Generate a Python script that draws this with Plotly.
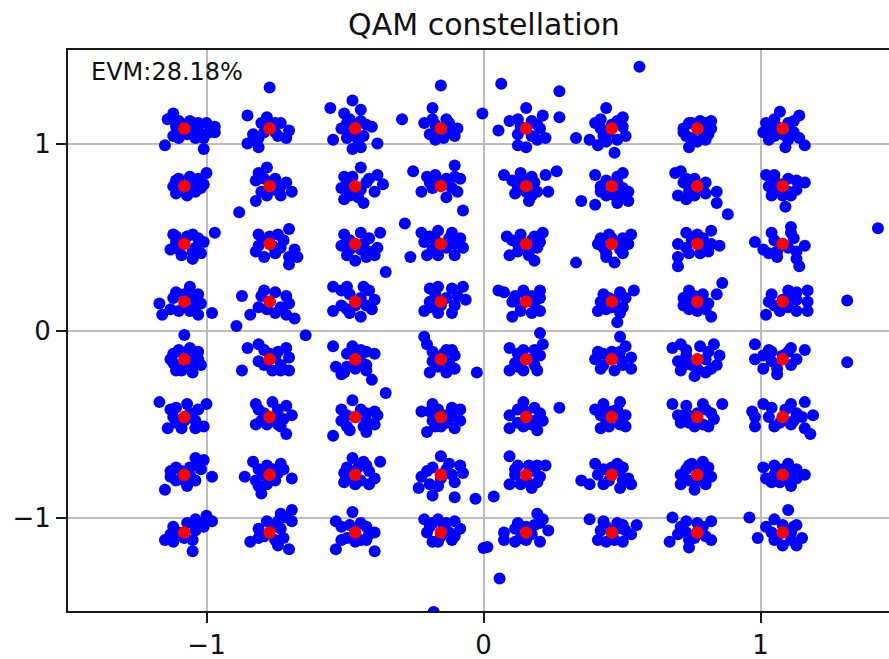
import plotly.graph_objects as go

# Ideal 64-QAM levels (normalised)
levels = [-1.080, -0.772, -0.463, -0.154, 0.154, 0.463, 0.772, 1.080]
tick_vals = [-1, 0, 1]
tick_text = ["\u22121", "0", "1"]
evm_text = "EVM:28.18%"
title_text = "QAM constellation"

# Received symbols: offsets (dI, dQ) from the ideal point, read per cluster.
# Each row list holds 8 clusters from left (I=-1.08) to right (I=1.08).
offsets_row0 = [  # Q = 1.080
    [(-0.04,0.08),(-0.06,0.05),(-0.02,0.04),(0.02,0.04),(0.05,0.03),(0.08,0.03),(0.11,0.01),(0.11,-0.02),(-0.04,-0.04),(-0.02,-0.05),(0.04,-0.05),(0.07,-0.05),(-0.07,-0.09),(0.07,-0.11),(0.02,0.0),(0.05,-0.01),(0.09,-0.02),(-0.03,0.01),(-0.02,-0.03),(0.03,0.03),(0.01,-0.03)],
    [(0.0,0.22),(-0.08,0.07),(-0.01,0.06),(0.02,0.03),(0.04,0.03),(0.07,-0.01),(0.06,-0.05),(-0.04,-0.05),(-0.05,-0.06),(-0.08,-0.08),(-0.04,-0.1),(-0.02,-0.02),(0.02,-0.02),(-0.03,0.03),(0.03,-0.04),(-0.06,-0.03)],
    [(-0.01,0.15),(0.02,0.1),(-0.04,0.08),(-0.02,0.05),(0.04,0.02),(0.06,0.01),(-0.03,-0.05),(-0.01,-0.11),(0.02,-0.1),(0.08,-0.08),(-0.05,0.0),(0.03,-0.04),(-0.09,0.11),(-0.08,-0.06),(0.0,-0.02),(-0.03,0.03),(0.02,0.04),(-0.02,-0.03),(0.01,-0.06)],
    [(0.0,0.23),(-0.03,0.11),(-0.14,0.05),(-0.06,0.03),(0.02,0.05),(0.06,0.0),(0.05,-0.04),(-0.02,-0.06),(-0.04,-0.03),(0.01,-0.05),(0.03,-0.02),(0.15,0.08),(-0.02,0.02),(-0.03,0.05),(0.03,0.03),(-0.01,-0.03)],
    [(-0.09,0.24),(-0.1,-0.01),(0.0,0.11),(-0.06,0.04),(-0.03,0.05),(0.06,0.07),(0.12,0.06),(0.12,0.2),(0.04,0.02),(0.07,-0.05),(0.04,-0.06),(-0.03,-0.09),(0.0,-0.1),(0.02,-0.04),(0.18,-0.05),(-0.02,0.01),(-0.03,-0.03),(0.02,0.04),(0.05,0.0)],
    [(-0.02,0.11),(-0.06,0.03),(-0.08,-0.06),(-0.05,-0.09),(-0.03,-0.04),(-0.04,0.05),(0.02,-0.06),(0.04,0.06),(0.05,-0.04),(0.01,-0.13),(0.04,0.01),(0.1,0.33),(0.0,0.02),(-0.01,-0.02),(-0.04,0.0),(0.02,0.04),(-0.02,-0.07)],
    [(-0.05,0.0),(-0.04,-0.04),(-0.03,-0.1),(0.0,-0.07),(0.03,-0.06),(0.05,0.04),(0.01,0.04),(-0.02,0.03),(0.05,0.0),(0.04,-0.03),(-0.05,-0.02),(0.0,0.01),(0.02,-0.02),(-0.03,0.03),(0.03,0.03),(-0.02,-0.05)],
    [(-0.01,0.09),(-0.06,0.03),(-0.07,-0.02),(-0.05,-0.06),(0.01,-0.1),(0.04,0.04),(0.06,0.07),(0.04,-0.02),(0.06,-0.05),(0.08,-0.09),(-0.03,-0.04),(0.02,-0.06),(-0.02,0.01),(-0.03,0.05),(0.02,0.03),(-0.05,-0.01),(0.0,-0.03)],
]
offsets_row1 = [  # Q = 0.772
    [(-0.02,0.04),(0.02,0.05),(0.05,0.04),(0.08,0.07),(0.07,0.01),(-0.03,-0.04),(0.01,-0.05),(0.04,-0.03),(0.06,-0.01),(0.03,0.01),(-0.03,0.03),(0.0,0.0),(-0.01,-0.02),(-0.04,0.0),(0.02,-0.03),(0.04,0.03)],
    [(-0.01,0.1),(-0.04,0.07),(-0.05,0.03),(-0.02,0.04),(0.04,0.0),(0.08,-0.03),(0.04,-0.05),(-0.05,-0.08),(-0.11,-0.14),(0.02,-0.02),(0.0,0.02),(-0.03,-0.03),(0.02,0.04),(-0.01,-0.05),(0.06,0.02)],
    [(0.02,0.1),(-0.04,0.05),(0.08,0.06),(0.1,0.01),(0.07,-0.03),(0.03,-0.09),(-0.04,-0.07),(-0.05,-0.01),(0.04,0.02),(-0.01,0.05),(-0.02,-0.05),(0.02,-0.02),(-0.03,0.02),(0.05,0.04),(0.01,-0.06),(-0.03,-0.03)],
    [(-0.1,0.08),(0.05,0.11),(-0.05,0.05),(-0.02,0.06),(0.05,0.05),(0.07,0.04),(-0.07,-0.03),(-0.03,-0.01),(0.02,-0.06),(0.06,-0.03),(0.08,-0.13),(-0.13,-0.2),(0.02,0.01),(0.04,-0.01),(-0.01,0.03),(0.02,0.04),(-0.04,0.02)],
    [(-0.08,0.06),(-0.02,0.07),(0.07,0.06),(0.11,0.08),(0.08,-0.03),(-0.04,-0.04),(0.01,-0.08),(0.04,-0.03),(-0.03,0.0),(0.03,0.02),(0.0,-0.03),(-0.01,0.03),(0.02,0.05),(-0.05,0.03),(0.02,-0.05)],
    [(-0.06,0.06),(-0.11,-0.08),(-0.06,-0.1),(-0.04,0.0),(-0.02,-0.05),(0.02,-0.09),(0.04,0.07),(0.06,-0.03),(0.06,-0.08),(0.01,-0.05),(0.02,0.02),(-0.02,0.03),(0.04,-0.01),(-0.04,-0.03),(0.02,0.05),(0.03,-0.06)],
    [(-0.08,0.07),(-0.06,0.08),(-0.04,0.04),(-0.01,0.04),(-0.07,-0.05),(-0.04,-0.07),(-0.01,-0.05),(0.03,-0.04),(0.07,-0.03),(0.07,-0.09),(0.11,-0.15),(-0.03,0.0),(0.02,-0.02),(-0.05,0.02),(0.03,0.02),(-0.03,-0.03)],
    [(-0.06,0.06),(-0.03,0.06),(0.02,0.04),(0.08,0.02),(0.05,-0.02),(-0.04,-0.05),(0.03,-0.05),(0.01,-0.11),(-0.02,-0.02),(-0.05,0.0),(0.05,0.03),(0.0,0.01),(-0.03,0.03),(0.02,-0.03),(0.0,-0.05)],
]
offsets_row2 = [  # Q = 0.463
    [(-0.04,0.05),(0.03,0.05),(0.07,0.01),(0.06,-0.05),(0.03,-0.08),(-0.01,-0.06),(-0.05,-0.03),(-0.03,0.01),(0.04,-0.02),(0.01,0.04),(0.11,0.06),(-0.02,-0.03),(0.0,0.02),(0.03,-0.04),(-0.03,0.04),(0.05,0.03)],
    [(-0.04,0.05),(0.03,0.05),(0.07,0.08),(-0.05,-0.04),(-0.02,-0.07),(0.02,-0.05),(0.07,-0.07),(0.1,-0.07),(0.07,-0.11),(0.09,-0.03),(0.01,-0.01),(-0.02,0.02),(0.04,-0.02),(-0.04,-0.01),(0.05,0.02),(0.0,0.04)],
    [(-0.04,0.05),(-0.03,-0.06),(0.0,-0.09),(0.04,-0.07),(0.07,-0.06),(0.08,-0.02),(0.05,0.03),(0.09,0.06),(0.02,0.06),(-0.05,-0.01),(0.11,-0.15),(0.02,-0.03),(-0.02,0.02),(0.03,0.0),(-0.02,-0.03),(0.05,-0.04)],
    [(-0.07,0.06),(-0.01,0.07),(0.04,0.06),(0.07,0.03),(0.08,-0.02),(0.05,-0.06),(-0.01,-0.06),(-0.05,-0.06),(-0.06,0.01),(-0.11,-0.07),(0.02,-0.02),(-0.02,0.02),(0.03,0.03),(-0.03,-0.03),(0.05,0.0),(-0.04,0.04)],
    [(-0.07,0.04),(-0.02,0.05),(0.06,0.06),(0.04,-0.02),(0.03,-0.09),(-0.06,-0.06),(-0.03,-0.04),(0.18,-0.1),(0.02,0.02),(-0.03,0.0),(0.0,-0.03),(0.03,0.04),(-0.05,0.02),(0.01,-0.06),(0.05,0.01)],
    [(-0.04,0.03),(0.01,-0.1),(-0.02,-0.05),(0.04,0.03),(0.07,0.05),(0.03,-0.03),(0.0,0.03),(-0.03,-0.02),(0.02,0.0),(-0.05,0.0),(0.04,-0.05),(-0.01,0.05),(0.06,0.0),(-0.02,-0.07)],
    [(-0.04,0.06),(0.05,0.07),(-0.07,0.0),(0.08,-0.01),(0.05,0.0),(-0.03,-0.05),(-0.07,-0.07),(-0.07,-0.12),(0.01,-0.05),(-0.02,0.02),(0.02,0.03),(0.02,-0.02),(-0.04,-0.02),(0.04,-0.04),(0.0,0.05)],
    [(-0.1,0.01),(-0.07,-0.03),(-0.04,0.06),(0.03,0.06),(0.08,-0.01),(0.05,-0.04),(-0.02,-0.07),(0.06,-0.12),(0.05,-0.08),(-0.05,-0.05),(0.03,0.09),(0.0,0.0),(0.02,-0.02),(-0.03,0.02),(0.04,0.03),(-0.02,-0.04)],
]
offsets_row3 = [  # Q = 0.154
    [(-0.09,-0.01),(-0.08,-0.07),(-0.04,0.02),(0.02,0.08),(0.05,0.04),(0.06,-0.01),(0.05,-0.07),(-0.02,-0.05),(0.02,-0.05),(0.1,-0.06),(-0.03,0.05),(0.0,-0.02),(0.03,0.02),(-0.05,-0.04),(0.0,0.04),(0.04,-0.03)],
    [(-0.1,0.03),(-0.07,-0.07),(-0.12,-0.13),(-0.02,0.06),(0.02,0.05),(0.06,0.03),(0.07,-0.01),(0.06,-0.07),(0.09,-0.09),(-0.04,-0.03),(0.02,-0.06),(0.13,-0.18),(0.0,0.0),(-0.03,0.03),(0.04,-0.03),(-0.01,-0.04)],
    [(-0.05,0.06),(-0.03,0.08),(0.03,0.08),(0.05,0.06),(0.07,0.01),(0.06,-0.04),(0.02,-0.08),(-0.03,-0.04),(-0.05,-0.02),(-0.08,0.08),(-0.08,-0.05),(0.02,0.02),(0.0,-0.02),(-0.02,0.04),(0.04,-0.02),(-0.02,-0.06)],
    [(-0.04,0.07),(-0.01,0.08),(0.04,0.07),(0.08,0.08),(0.09,0.01),(0.05,-0.02),(0.04,-0.06),(-0.06,-0.05),(-0.04,0.0),(-0.01,-0.06),(0.02,0.02),(0.0,-0.02),(-0.02,0.04),(0.06,0.03),(-0.04,-0.03)],
    [(-0.1,0.06),(-0.08,0.05),(-0.04,0.03),(-0.01,0.06),(0.05,0.06),(0.05,-0.05),(0.02,-0.06),(-0.05,-0.08),(0.03,-0.01),(0.02,0.03),(-0.02,-0.02),(-0.05,0.0),(0.05,0.02),(-0.02,-0.05),(0.0,0.03)],
    [(-0.03,0.04),(-0.05,-0.05),(-0.02,-0.04),(0.02,-0.11),(0.03,0.05),(0.08,0.06),(0.04,-0.03),(0.01,0.01),(-0.01,0.02),(-0.04,0.0),(0.03,-0.06),(0.05,0.02),(0.0,-0.03)],
    [(-0.03,0.06),(-0.05,0.02),(-0.03,-0.04),(0.0,-0.05),(0.05,-0.08),(0.04,-0.01),(0.07,0.04),(0.09,0.1),(0.02,0.04),(0.01,-0.01),(-0.02,0.0),(-0.05,-0.02),(0.03,-0.04),(-0.01,0.03)],
    [(-0.04,0.04),(-0.06,-0.07),(-0.03,-0.02),(0.02,0.06),(0.05,0.05),(0.05,-0.05),(0.09,0.06),(0.09,0.0),(0.09,-0.05),(0.0,0.01),(0.02,-0.03),(-0.05,0.0),(0.05,0.01),(-0.01,-0.05),(0.03,0.03)],
]
offsets_row4 = [  # Q = -0.154
    [(0.0,0.13),(-0.04,0.03),(-0.03,-0.06),(0.03,-0.07),(0.06,-0.03),(0.05,0.04),(0.02,0.06),(-0.01,-0.06),(-0.04,-0.02),(0.03,0.0),(0.0,0.02),(0.03,-0.03),(-0.02,0.05),(0.05,0.0),(-0.05,0.0),(0.0,-0.04)],
    [(-0.08,0.06),(-0.1,-0.06),(-0.04,0.08),(0.06,0.06),(0.07,0.01),(0.07,-0.06),(0.01,-0.06),(-0.04,-0.01),(0.04,-0.03),(0.0,0.03),(0.02,0.01),(-0.02,0.05),(0.03,0.04),(-0.02,-0.03),(0.04,-0.06)],
    [(-0.01,0.07),(0.04,0.04),(0.07,0.03),(0.04,-0.03),(0.04,-0.06),(0.06,-0.11),(-0.04,-0.07),(-0.03,-0.04),(0.11,-0.18),(-0.08,0.07),(-0.07,-0.04),(-0.05,-0.08),(0.0,0.02),(0.02,-0.01),(-0.03,0.03),(0.02,0.05),(0.0,-0.05)],
    [(-0.06,0.12),(-0.05,0.08),(0.02,0.05),(0.05,0.02),(0.05,-0.05),(0.02,-0.07),(-0.04,-0.07),(-0.03,-0.01),(0.13,-0.07),(0.0,0.0),(0.03,-0.02),(-0.03,0.04),(0.01,0.03),(-0.01,-0.04),(0.04,0.05)],
    [(-0.06,0.06),(-0.04,-0.02),(-0.06,-0.06),(0.05,0.14),(0.06,0.08),(0.05,0.02),(0.04,-0.06),(-0.01,0.05),(-0.01,-0.06),(0.02,0.0),(-0.03,0.03),(0.03,-0.03),(0.03,0.05),(-0.03,-0.04)],
    [(-0.06,0.0),(-0.03,0.03),(0.03,0.12),(0.05,0.07),(0.07,0.01),(0.07,-0.05),(0.01,-0.06),(-0.03,-0.03),(0.03,0.0),(0.0,0.04),(-0.04,-0.05),(0.04,-0.03),(0.03,0.04),(-0.05,0.04)],
    [(-0.09,0.06),(-0.06,0.08),(-0.07,-0.01),(-0.06,-0.06),(-0.01,-0.09),(0.03,-0.07),(0.07,-0.03),(0.08,0.02),(0.06,0.08),(0.01,0.07),(-0.04,0.02),(0.03,0.0),(-0.02,-0.03),(-0.04,0.05),(0.04,0.04),(0.0,-0.05),(0.05,-0.05),(-0.05,-0.03)],
    [(-0.1,0.08),(-0.1,0.0),(-0.07,-0.05),(-0.05,0.05),(-0.02,-0.05),(-0.02,-0.08),(0.03,0.06),(0.08,0.05),(0.05,0.0),(0.0,0.02),(-0.04,-0.01),(-0.07,0.02),(0.03,-0.03),(0.02,0.04),(-0.04,0.04)],
]
offsets_row5 = [  # Q = -0.463
    [(-0.09,0.08),(0.08,0.07),(-0.03,0.05),(0.01,0.07),(-0.06,-0.06),(-0.01,-0.06),(0.04,-0.06),(0.07,-0.05),(0.04,-0.02),(-0.04,0.0),(0.02,0.02),(0.05,0.04),(-0.03,-0.03),(0.0,-0.02),(-0.05,0.04)],
    [(-0.05,0.07),(0.01,0.08),(0.06,0.06),(0.08,0.01),(-0.05,-0.04),(0.03,-0.04),(0.06,-0.09),(0.04,-0.05),(-0.02,0.02),(0.02,0.0),(-0.03,-0.02),(0.03,0.04),(0.05,-0.01),(-0.01,-0.04),(-0.04,0.04)],
    [(-0.01,0.09),(-0.05,0.04),(0.07,0.03),(0.08,0.01),(0.04,-0.02),(-0.03,-0.05),(0.04,-0.08),(-0.02,-0.07),(0.07,-0.04),(-0.08,-0.1),(0.0,0.0),(-0.03,0.01),(0.02,0.04),(0.03,-0.05),(-0.05,-0.02),(0.04,0.02)],
    [(-0.07,0.03),(-0.03,0.07),(0.04,0.05),(0.07,0.04),(-0.05,-0.08),(0.05,-0.06),(0.07,-0.02),(0.0,-0.05),(-0.03,-0.02),(0.02,0.01),(-0.01,0.04),(0.04,0.0),(-0.04,0.03),(0.02,-0.03),(-0.02,-0.05)],
    [(-0.01,0.08),(-0.06,0.01),(0.12,0.05),(0.05,0.02),(-0.06,-0.06),(0.04,-0.07),(0.03,-0.02),(-0.03,-0.03),(0.0,0.03),(0.02,-0.04),(-0.03,0.04),(0.03,0.05),(-0.01,-0.05),(0.06,-0.02)],
    [(-0.06,0.04),(-0.03,0.07),(-0.04,-0.06),(0.04,0.0),(0.03,-0.04),(0.03,0.08),(0.05,0.01),(-0.02,-0.02),(0.0,0.03),(-0.01,-0.05),(-0.04,0.01),(0.02,0.04),(0.05,-0.05),(-0.03,0.04)],
    [(-0.09,0.07),(-0.07,0.01),(-0.04,0.06),(0.02,0.07),(0.05,0.02),(0.09,0.07),(-0.03,-0.03),(0.04,-0.05),(0.02,-0.04),(0.0,0.02),(-0.04,0.02),(0.03,0.04),(-0.01,-0.05),(0.06,-0.01),(-0.06,-0.03)],
    [(-0.11,0.03),(-0.07,0.07),(-0.04,0.05),(0.03,0.07),(0.08,0.08),(0.11,0.01),(0.05,0.02),(-0.1,0.0),(-0.1,-0.05),(-0.03,-0.05),(0.03,-0.04),(0.08,-0.06),(0.1,-0.09),(0.07,0.0),(0.0,0.0),(-0.05,0.0),(0.01,0.04),(-0.01,-0.03),(0.04,-0.02)],
]
offsets_row6 = [  # Q = -0.772
    [(-0.07,-0.08),(-0.05,-0.01),(-0.03,0.04),(0.04,0.09),(0.07,0.08),(0.06,0.03),(0.1,-0.01),(0.01,-0.06),(0.04,-0.03),(-0.01,0.02),(0.02,0.04),(0.02,0.0),(-0.03,-0.03),(0.05,0.05),(-0.05,0.02),(0.0,-0.03)],
    [(-0.09,-0.01),(-0.06,0.07),(-0.04,0.03),(0.04,0.06),(0.01,0.03),(-0.04,-0.06),(-0.03,-0.1),(-0.01,-0.05),(0.08,-0.02),(0.03,0.01),(-0.02,0.0),(-0.01,0.05),(0.05,0.03),(0.02,-0.03),(-0.05,-0.03)],
    [(-0.01,0.09),(0.09,0.07),(0.04,0.05),(0.07,-0.02),(0.05,-0.05),(-0.04,-0.04),(-0.03,0.04),(0.02,-0.03),(0.0,0.0),(-0.02,-0.01),(0.01,0.04),(0.05,0.02),(-0.04,0.01),(0.0,-0.05),(0.03,0.07)],
    [(-0.07,-0.01),(-0.08,-0.07),(-0.03,-0.11),(0.0,0.1),(-0.03,0.04),(0.07,0.05),(0.08,0.01),(0.05,-0.04),(0.05,-0.12),(-0.04,-0.05),(0.02,0.03),(0.0,-0.02),(-0.05,0.02),(0.04,0.0),(-0.01,-0.06),(0.03,0.06)],
    [(-0.06,0.1),(-0.03,0.05),(0.04,0.05),(0.07,0.05),(0.05,-0.01),(0.02,-0.07),(-0.06,-0.05),(-0.04,0.0),(0.0,-0.03),(0.02,0.02),(0.01,0.05),(-0.02,-0.05),(0.04,-0.04),(-0.04,0.03)],
    [(-0.11,-0.03),(-0.08,-0.05),(-0.06,0.06),(-0.03,0.03),(-0.03,-0.05),(0.02,0.06),(0.04,0.04),(0.06,-0.02),(0.07,-0.05),(0.03,-0.07),(0.0,0.0),(-0.01,-0.03),(-0.05,0.0),(0.03,0.02),(0.0,0.04),(0.04,-0.03)],
    [(-0.03,0.05),(0.02,0.07),(0.04,0.04),(0.05,-0.01),(0.03,-0.05),(-0.01,-0.08),(-0.06,-0.05),(-0.06,0.0),(-0.04,0.03),(0.0,-0.03),(0.0,0.04),(-0.03,-0.03),(0.03,0.0),(-0.02,0.06)],
    [(-0.07,0.04),(-0.06,-0.02),(-0.03,0.05),(0.02,0.06),(0.05,0.03),(0.08,0.0),(0.03,-0.06),(-0.01,-0.04),(0.05,-0.02),(-0.03,0.0),(0.0,0.03),(0.03,0.02),(-0.04,-0.04),(0.02,-0.03)],
]
offsets_row7 = [  # Q = -1.080
    [(-0.07,-0.04),(-0.04,0.03),(0.03,0.05),(0.04,0.07),(0.08,0.09),(0.1,0.06),(0.04,0.01),(0.03,-0.1),(-0.04,-0.05),(0.01,0.05),(0.06,0.05),(-0.02,0.0),(0.0,-0.03),(-0.05,-0.01),(0.03,-0.04),(0.07,0.03)],
    [(-0.07,-0.05),(-0.04,0.02),(-0.01,0.06),(0.04,0.1),(0.08,0.12),(0.08,0.06),(0.04,0.02),(0.03,-0.07),(0.07,-0.09),(-0.02,-0.02),(0.06,0.08),(0.01,0.03),(0.05,-0.03),(-0.04,-0.03),(0.02,-0.04),(0.03,0.06)],
    [(-0.01,0.11),(-0.05,0.03),(-0.05,-0.04),(0.02,0.05),(0.05,-0.01),(0.07,0.0),(0.02,-0.04),(0.07,-0.1),(-0.03,-0.03),(-0.07,0.06),(-0.07,-0.09),(0.0,0.0),(-0.02,0.04),(0.04,0.03),(0.0,-0.05),(0.04,-0.04)],
    [(-0.06,0.07),(-0.01,0.07),(0.05,0.06),(0.07,0.02),(0.04,-0.04),(-0.03,-0.05),(-0.04,0.03),(0.01,0.03),(0.0,-0.02),(0.03,0.0),(-0.05,0.0),(0.02,0.05),(-0.01,-0.05),(0.05,-0.02),(-0.03,0.05)],
    [(-0.08,0.0),(-0.08,-0.04),(-0.04,-0.05),(-0.03,0.05),(0.04,0.1),(0.05,0.05),(0.08,0.01),(0.05,-0.05),(0.02,-0.01),(0.0,0.03),(0.06,0.07),(-0.04,0.02),(0.0,-0.04),(0.03,0.04),(-0.02,-0.03)],
    [(-0.08,0.07),(-0.05,-0.04),(-0.03,0.06),(-0.02,-0.05),(0.04,0.04),(0.09,0.04),(0.07,-0.01),(0.04,-0.05),(0.0,0.0),(0.02,0.02),(-0.04,0.01),(0.01,-0.04),(0.05,0.01),(-0.02,0.03),(0.02,0.05)],
    [(-0.09,0.08),(-0.1,-0.05),(-0.07,-0.01),(-0.03,-0.08),(-0.04,0.06),(0.05,-0.04),(0.05,0.06),(0.02,0.03),(-0.01,-0.03),(0.0,0.0),(-0.06,0.03),(-0.03,-0.04),(0.03,-0.02),(0.0,0.05),(-0.04,0.0)],
    [(-0.12,0.08),(-0.09,-0.03),(-0.06,0.03),(-0.03,0.07),(0.02,0.12),(0.05,0.04),(0.07,-0.03),(0.05,-0.07),(0.0,-0.07),(-0.03,-0.04),(0.03,0.0),(-0.04,0.0),(0.0,0.04),(0.03,-0.04),(-0.02,-0.02),(0.04,0.03)],
]

# Stray received symbols far from any cluster (absolute I, Q)
stray_i = [1.424, 1.313, 1.313, -0.029, 0.037, 0.0, 0.014, 0.058, -0.18]
stray_q = [0.547, 0.161, -0.170, -0.900, -0.888, -1.163, -1.158, -1.326, -1.505]

rows = [offsets_row0, offsets_row1, offsets_row2, offsets_row3,
        offsets_row4, offsets_row5, offsets_row6, offsets_row7]
row_levels = levels[::-1]

rx_i, rx_q = [], []
for r, row in enumerate(rows):
    q0 = row_levels[r]
    for c, pts in enumerate(row):
        i0 = levels[c]
        for dx, dy in pts:
            rx_i.append(i0 + dx)
            rx_q.append(q0 + dy)
rx_i += stray_i
rx_q += stray_q

ideal_i = [i for q in levels for i in levels]
ideal_q = [q for q in levels for i in levels]

FONT = "DejaVu Sans"

fig = go.Figure()
fig.add_trace(go.Scatter(x=rx_i, y=rx_q, mode="markers",
                         marker=dict(color="#0000ff", size=12, line=dict(width=0)),
                         showlegend=False, hoverinfo="skip"))
fig.add_trace(go.Scatter(x=ideal_i, y=ideal_q, mode="markers",
                         marker=dict(color="#ff0000", size=12.5, line=dict(width=0)),
                         showlegend=False, hoverinfo="skip"))

fig.add_annotation(x=-1.425, y=1.38, xref="x", yref="y", text=evm_text,
                   showarrow=False, xanchor="left", yanchor="middle",
                   font=dict(family=FONT, size=24, color="#111"))

axis_common = dict(
    showgrid=True, gridcolor="#bdbdbd", gridwidth=1.5,
    zeroline=False, showline=True, linecolor="#1a1a1a", linewidth=2,
    ticks="outside", ticklen=10, tickwidth=2, tickcolor="#1a1a1a",
    tickvals=tick_vals, ticktext=tick_text,
    tickfont=dict(family=FONT, size=26, color="#111"),
)

fig.update_layout(
    width=889, height=659,
    margin=dict(l=68, r=0, t=50, b=48),
    paper_bgcolor="white", plot_bgcolor="white",
    title=dict(text=title_text, x=484/889, xref="container", xanchor="center",
               y=1 - 24/659, yref="container", yanchor="middle",
               font=dict(family=FONT, size=30, color="#111")),
    xaxis=dict(range=[-1.5, 1.4639], mirror=True, **axis_common),
    yaxis=dict(range=[-1.5, 1.5], mirror=False, **axis_common),
)

fig.write_html("out.html")
